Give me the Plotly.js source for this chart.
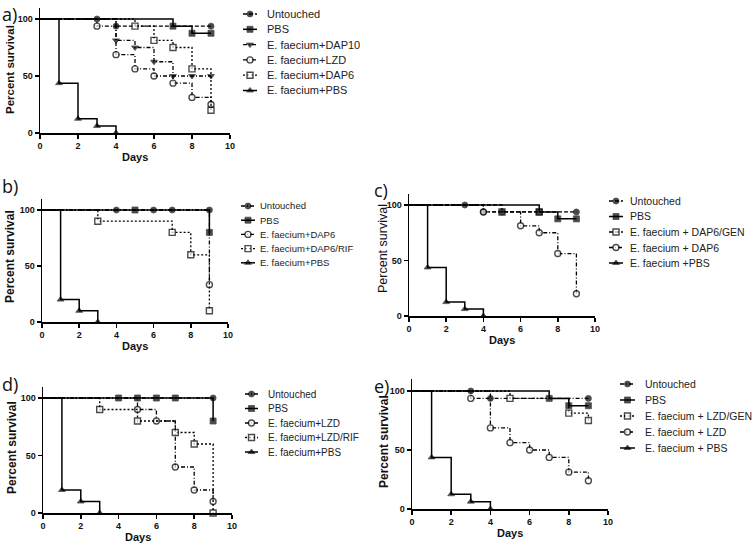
<!DOCTYPE html>
<html>
<head>
<meta charset="utf-8">
<script src="https://cdn.plot.ly/plotly-3.0.1.min.js"></script>
<style>html,body{margin:0;padding:0;background:#fff;}#chart{width:754px;height:543px;}</style>
</head>
<body>
<div id="chart"></div>
<script>
// ---------------- DATA ----------------
const xTickVals = [0, 2, 4, 6, 8, 10];
const yTickVals = [0, 50, 100];
const xAxisTitle = 'Days';
const yAxisTitle = 'Percent survival';
const panelLetters = ['a)', 'b)', 'c)', 'd)', 'e)'];

// Panel a
const aNames = ['Untouched', 'PBS', 'E. faecium+DAP10', 'E. faecium+LZD', 'E. faecium+DAP6', 'E. faecium+PBS'];
const aUntouchedDays = [0, 3, 4, 9];          const aUntouchedSurv = [100, 100, 93.75, 93.75];
const aPbsDays = [0, 7, 8, 9];                const aPbsSurv = [100, 93.75, 87.5, 87.5];
const aDap10Days = [0, 4, 5, 6, 7, 8, 9];     const aDap10Surv = [100, 81.25, 75, 62.5, 50, 50, 50];
const aLzdDays = [0, 3, 4, 5, 6, 7, 8, 9];    const aLzdSurv = [100, 93.75, 68.75, 56.25, 50, 43.75, 31.25, 25];
const aDap6Days = [0, 5, 6, 7, 8, 9];         const aDap6Surv = [100, 93.75, 81.25, 75, 56.25, 20];
const aEfPbsDays = [0, 1, 2, 3, 4];           const aEfPbsSurv = [100, 43.75, 12.5, 6.25, 0];

// Panel b
const bNames = ['Untouched', 'PBS', 'E. faecium+DAP6', 'E. faecium+DAP6/RIF', 'E. faecium+PBS'];
const bUntouchedDays = [0, 4, 6, 7, 9];       const bUntouchedSurv = [100, 100, 100, 100, 100];
const bPbsDays = [0, 5, 9];                   const bPbsSurv = [100, 100, 80];
const bDap6Days = [0, 9];                     const bDap6Surv = [100, 33.33];
const bDap6RifDays = [0, 3, 7, 8, 9];         const bDap6RifSurv = [100, 90, 80, 60, 10];
const bEfPbsDays = [0, 1, 2, 3];              const bEfPbsSurv = [100, 20, 10, 0];

// Panel c
const cNames = ['Untouched', 'PBS', 'E. faecium + DAP6/GEN', 'E. faecium + DAP6', 'E. faecium +PBS'];
const cUntouchedDays = [0, 3, 4, 5, 9];       const cUntouchedSurv = [100, 100, 93.75, 93.75, 93.75];
const cPbsDays = [0, 7, 8, 9];                const cPbsSurv = [100, 93.75, 87.5, 87.5];
const cDap6GenDays = [0, 5, 7];               const cDap6GenSurv = [100, 93.75, 93.75];
const cDap6Days = [0, 4, 6, 7, 8, 9];         const cDap6Surv = [100, 93.75, 81.25, 75, 56.25, 20];
const cEfPbsDays = [0, 1, 2, 3, 4];           const cEfPbsSurv = [100, 43.75, 12.5, 6.25, 0];

// Panel d
const dNames = ['Untouched', 'PBS', 'E. faecium+LZD', 'E. faecium+LZD/RIF', 'E. faecium+PBS'];
const dUntouchedDays = [0, 9];                const dUntouchedSurv = [100, 100];
const dPbsDays = [0, 4, 5, 6, 7, 9];          const dPbsSurv = [100, 100, 100, 100, 100, 80];
const dLzdDays = [0, 5, 6, 7, 8, 9];          const dLzdSurv = [100, 90, 80, 40, 20, 10];
const dLzdRifDays = [0, 3, 5, 7, 8, 9];       const dLzdRifSurv = [100, 90, 80, 70, 60, 0];
const dEfPbsDays = [0, 1, 2, 3];              const dEfPbsSurv = [100, 20, 10, 0];

// Panel e
const eNames = ['Untouched', 'PBS', 'E. faecium + LZD/GEN', 'E. faecium + LZD', 'E. faecium + PBS'];
const eUntouchedDays = [0, 3, 4, 9];          const eUntouchedSurv = [100, 100, 93.75, 93.75];
const ePbsDays = [0, 7, 8, 9];                const ePbsSurv = [100, 93.75, 87.5, 87.5];
const eLzdGenDays = [0, 5, 8, 9];             const eLzdGenSurv = [100, 93.75, 81.25, 75];
const eLzdDays = [0, 3, 4, 5, 6, 7, 8, 9];    const eLzdSurv = [100, 93.75, 68.75, 56.25, 50, 43.75, 31.25, 24];
const eEfPbsDays = [0, 1, 2, 3, 4];           const eEfPbsSurv = [100, 43.75, 12.5, 6.25, 0];

// ---------------- STYLES / LAYOUT ----------------
const W = 754, H = 543;
const FONT = 'Liberation Sans, Arial, sans-serif';
const DASH = '4px,2px', DASHDOT = '4px,2px,1px,2px', DOT = '2px,2px';
const ST = {
  untouched: {symbol: 'circle', fill: 'black', dash: DASH, width: 1.3, size: 6},
  untouchedDD: {symbol: 'circle', fill: 'black', dash: DASHDOT, width: 1.3, size: 6},
  pbs: {symbol: 'square', fill: 'black', dash: 'solid', width: 1.5, size: 6},
  dap10: {symbol: 'triangle-down', fill: 'black', dash: DASHDOT, width: 1.3, size: 6},
  oCircle: {symbol: 'circle', fill: 'white', dash: DASHDOT, width: 1.3, size: 6},
  oSquareDot: {symbol: 'square', fill: 'white', dash: DOT, width: 1.3, size: 6},
  oSquareDash: {symbol: 'square', fill: 'white', dash: DASH, width: 1.3, size: 6},
  efPbs: {symbol: 'triangle-up', fill: 'black', dash: 'solid', width: 1.5, size: 6}
};

// pixel geometry of each panel: x of day 0, x of day 10, y of 0%, y of 100%
const panels = [
  {x0: 40, x10: 230, y0: 133, y100: 19,
   series: [[aUntouchedDays, aUntouchedSurv, ST.untouched], [aPbsDays, aPbsSurv, ST.pbs], [aDap10Days, aDap10Surv, ST.dap10],
            [aLzdDays, aLzdSurv, ST.oCircle], [aDap6Days, aDap6Surv, ST.oSquareDot], [aEfPbsDays, aEfPbsSurv, ST.efPbs]],
   names: aNames, leg: {lx: 243, lw: 14, tx: 265, ty: 14, dy: 15.3, fs: 11},
   ytl: {x: 10, y: 70, fs: 11.5, w: 'bold'}, days: {y: 157}, letter: {x: 0, y: 14}},
  {x0: 42, x10: 228, y0: 322, y100: 210,
   series: [[bUntouchedDays, bUntouchedSurv, ST.untouchedDD], [bPbsDays, bPbsSurv, ST.pbs], [bDap6Days, bDap6Surv, ST.oCircle],
            [bDap6RifDays, bDap6RifSurv, ST.oSquareDot], [bEfPbsDays, bEfPbsSurv, ST.efPbs]],
   names: bNames, leg: {lx: 241, lw: 14, tx: 258, ty: 206, dy: 14.2, fs: 9.5},
   ytl: {x: 10, y: 257, fs: 12, w: 'bold'}, days: {y: 346}, letter: {x: 0, y: 186}},
  {x0: 409, x10: 595, y0: 316, y100: 205,
   series: [[cDap6GenDays, cDap6GenSurv, ST.oSquareDash], [cUntouchedDays, cUntouchedSurv, ST.untouched], [cPbsDays, cPbsSurv, ST.pbs],
            [cDap6Days, cDap6Surv, ST.oCircle], [cEfPbsDays, cEfPbsSurv, ST.efPbs]],
   legendOrder: [1, 2, 0, 3, 4],
   names: cNames, leg: {lx: 609, lw: 14, tx: 628, ty: 201, dy: 15.5, fs: 10.5},
   ytl: {x: 383, y: 249, fs: 12.5, w: 'normal'}, days: {y: 340}, letter: {x: 372, y: 190}},
  {x0: 43, x10: 232, y0: 513, y100: 398,
   series: [[dUntouchedDays, dUntouchedSurv, ST.untouchedDD], [dPbsDays, dPbsSurv, ST.pbs], [dLzdDays, dLzdSurv, ST.oCircle],
            [dLzdRifDays, dLzdRifSurv, ST.oSquareDot], [dEfPbsDays, dEfPbsSurv, ST.efPbs]],
   names: dNames, leg: {lx: 245, lw: 13, tx: 266, ty: 394, dy: 14.5, fs: 10},
   ytl: {x: 12, y: 448, fs: 12, w: 'bold'}, days: {y: 537}, letter: {x: 0, y: 384}},
  {x0: 412, x10: 608, y0: 509, y100: 391,
   series: [[eUntouchedDays, eUntouchedSurv, ST.untouchedDD], [ePbsDays, ePbsSurv, ST.pbs], [eLzdGenDays, eLzdGenSurv, ST.oSquareDot],
            [eLzdDays, eLzdSurv, ST.oCircle], [eEfPbsDays, eEfPbsSurv, ST.efPbs]],
   names: eNames, leg: {lx: 620, lw: 15, tx: 643, ty: 384, dy: 16, fs: 10.5},
   ytl: {x: 384, y: 442, fs: 12, w: 'bold'}, days: {y: 533}, letter: {x: 372, y: 386}}
];

const YMAX = 110;
const traces = [];
const layout = {
  width: W, height: H, margin: {l: 0, r: 0, t: 0, b: 0},
  paper_bgcolor: 'white', plot_bgcolor: 'rgba(0,0,0,0)',
  showlegend: false, font: {family: FONT, color: '#000'},
  annotations: []
};

function markerOf(st, n, hideFirst) {
  return {
    symbol: st.symbol, color: st.fill,
    size: Array.from({length: n}, (_, i) => (hideFirst && i === 0) ? 0 : st.size),
    line: {color: 'black', width: st.fill === 'white' ? 1.4 : 0.8}
  };
}

panels.forEach((p, k) => {
  const id = k === 0 ? '' : String(k + 1);
  const yTop = p.y0 - (p.y0 - p.y100) * YMAX / 100;
  layout['xaxis' + id] = {
    domain: [p.x0 / W, p.x10 / W], range: [0, 10], anchor: 'y' + id,
    showline: true, linecolor: 'black', linewidth: 1.5, mirror: false,
    showgrid: false, zeroline: false, ticks: 'outside', ticklen: 4, tickwidth: 1.5, tickcolor: 'black',
    tickvals: xTickVals, tickfont: {family: FONT, size: 9, weight: 'bold', color: '#111'}, fixedrange: true
  };
  layout['yaxis' + id] = {
    domain: [1 - p.y0 / H, 1 - yTop / H], range: [0, YMAX], anchor: 'x' + id,
    showline: true, linecolor: 'black', linewidth: 1.5,
    showgrid: false, zeroline: false, ticks: 'outside', ticklen: 4, tickwidth: 1.5, tickcolor: 'black',
    tickvals: yTickVals, tickfont: {family: FONT, size: 9, weight: 'bold', color: '#111'}, fixedrange: true
  };
  p.series.forEach(([xs, ys, st]) => {
    traces.push({
      type: 'scatter', mode: 'lines+markers', x: xs, y: ys, xaxis: 'x' + id, yaxis: 'y' + id,
      line: {shape: 'hv', color: 'black', width: st.width, dash: st.dash},
      marker: markerOf(st, xs.length, true), cliponaxis: false, hoverinfo: 'skip'
    });
  });
  // axis titles
  layout.annotations.push({
    xref: 'paper', yref: 'paper', x: (p.x0 + p.x10) / 2 / W, y: 1 - p.days.y / H,
    text: xAxisTitle, showarrow: false, xanchor: 'center', yanchor: 'middle',
    font: {family: FONT, size: 11, weight: 'bold', color: '#111'}
  });
  layout.annotations.push({
    xref: 'paper', yref: 'paper', x: p.ytl.x / W, y: 1 - p.ytl.y / H,
    text: yAxisTitle, showarrow: false, textangle: -90, xanchor: 'center', yanchor: 'middle',
    font: {family: FONT, size: p.ytl.fs, weight: p.ytl.w, color: '#111'}
  });
  layout.annotations.push({
    xref: 'paper', yref: 'paper', x: p.letter.x / W, y: 1 - p.letter.y / H,
    text: panelLetters[k], showarrow: false, xanchor: 'left', yanchor: 'middle',
    font: {family: 'Open Sans, sans-serif', size: 18, color: '#111'}
  });
  // custom legend (drawn on an overlay axis measured in pixels)
  const order = p.legendOrder || p.series.map((_, i) => i);
  order.forEach((si, j) => {
    const st = p.series[si][2];
    const yy = p.leg.ty + j * p.leg.dy;
    traces.push({
      type: 'scatter', mode: 'lines+markers', xaxis: 'x6', yaxis: 'y6',
      x: [p.leg.lx, p.leg.lx + p.leg.lw / 2, p.leg.lx + p.leg.lw], y: [yy, yy, yy],
      line: {color: 'black', width: st.width, dash: st.dash},
      marker: {symbol: st.symbol, color: st.fill, size: [0, st.size, 0],
               line: {color: 'black', width: st.fill === 'white' ? 1.4 : 0.8}},
      cliponaxis: false, hoverinfo: 'skip'
    });
    layout.annotations.push({
      xref: 'paper', yref: 'paper', x: p.leg.tx / W, y: 1 - yy / H,
      text: p.names[j], showarrow: false, xanchor: 'left', yanchor: 'middle',
      font: {family: FONT, size: p.leg.fs, color: '#222'}
    });
  });
});

layout.xaxis6 = {domain: [0, 1], range: [0, W], visible: false, fixedrange: true, anchor: 'y6'};
layout.yaxis6 = {domain: [0, 1], range: [H, 0], visible: false, fixedrange: true, anchor: 'x6'};

Plotly.newPlot('chart', traces, layout, {staticPlot: true, displayModeBar: false});
</script>
</body>
</html>
